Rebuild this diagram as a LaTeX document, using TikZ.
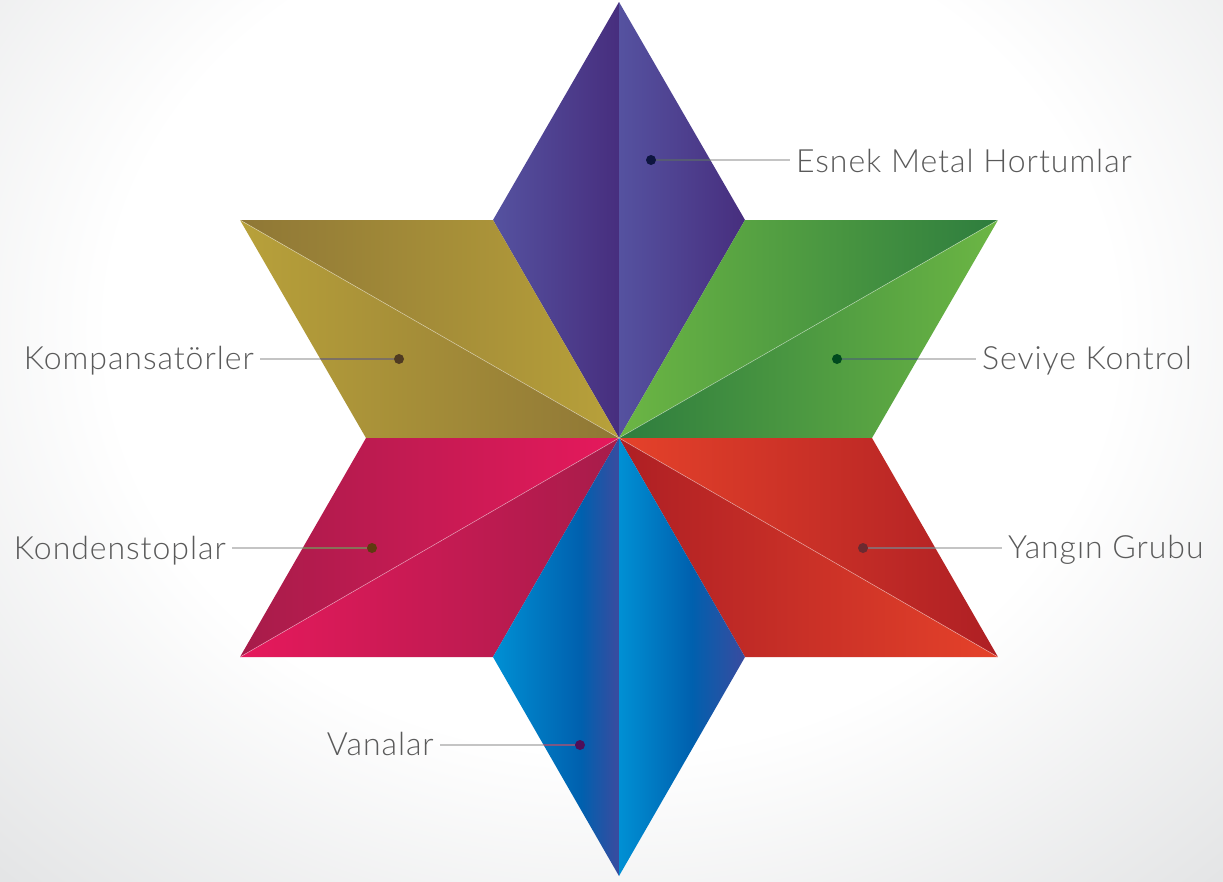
\documentclass[tikz,border=0pt]{standalone}
\usepackage{fontspec}
\newfontfamily\labelfont{Lato Light}[LetterSpace=3]

\definecolor{paperGrey}{HTML}{E4E5E6}
\definecolor{txtGrey}{HTML}{5A5A5A}
\definecolor{leadGrey}{HTML}{C4C4C4}
\definecolor{purA}{HTML}{5552A0}
\definecolor{purB}{HTML}{472E7E}
\definecolor{goldDark}{HTML}{8F7736}
\definecolor{goldLight}{HTML}{B8A13A}
\definecolor{grnLight}{HTML}{6CB644}
\definecolor{grnDark}{HTML}{2E7D3E}
\definecolor{pnkDark}{HTML}{A71C4A}
\definecolor{pnkBright}{HTML}{E6195C}
\definecolor{redBright}{HTML}{E5422A}
\definecolor{redDark}{HTML}{AE1F24}
\definecolor{bluA}{HTML}{0090D4}
\definecolor{bluB}{HTML}{0060AE}
\definecolor{bluC}{HTML}{3A4B9F}
\definecolor{dotNavy}{HTML}{0E1540}
\definecolor{dotBrown}{HTML}{4F3A22}
\definecolor{dotGreen}{HTML}{004A1E}
\definecolor{dotOchre}{HTML}{5F3A10}
\definecolor{dotMaroon}{HTML}{6B2A30}
\definecolor{dotPlum}{HTML}{4E0F5A}

\pgfdeclarehorizontalshading{blueleft}{100bp}{color(0bp)=(bluA); color(25bp)=(bluA); color(60bp)=(bluB); color(75bp)=(bluC); color(100bp)=(bluC)}
\pgfdeclarehorizontalshading{blueright}{100bp}{color(0bp)=(bluA); color(25bp)=(bluA); color(54bp)=(bluB); color(75bp)=(bluC); color(100bp)=(bluC)}
\pgfdeclareradialshading{paper}{\pgfpoint{0bp}{0bp}}{color(0bp)=(white); color(15.5bp)=(white); color(27.5bp)=(paperGrey); color(50bp)=(paperGrey)}

\begin{document}
\begin{tikzpicture}[
x=1pt, y=-1pt,
lbl/.style={font=\labelfont\fontsize{32}{37}\selectfont, text=txtGrey, inner sep=0pt, inner xsep=6pt},
dot/.style={circle, minimum size=10pt, inner sep=0pt},
lead/.style={draw=leadGrey, line width=1.6pt},
split/.style={draw=white, opacity=.45, line width=.6pt}
]
\useasboundingbox (0,0) rectangle (1223,881);

% paper
\begin{scope}
\clip (0,0) rectangle (1223,881);
\shade[shading=paper] (-200,-350) rectangle (1423,1010);
\end{scope}

% star corners
\coordinate (C) at (619,438);
\coordinate (T) at (619,2);
\coordinate (B) at (619,876);
\coordinate (UL) at (240,220);
\coordinate (UR) at (998,220);
\coordinate (LL) at (240,657);
\coordinate (LR) at (998,657);
\coordinate (H1) at (493,220);
\coordinate (H2) at (745,220);
\coordinate (H3) at (872,438);
\coordinate (H4) at (745,657);
\coordinate (H5) at (493,657);
\coordinate (H6) at (366,438);

% top
\shade[left color=purA, right color=purB] (T) -- (H1) -- (C) -- cycle;
\shade[left color=purA, right color=purB] (T) -- (C) -- (H2) -- cycle;
% upper left
\shade[left color=goldDark, right color=goldLight] (UL) -- (H1) -- (C) -- cycle;
\shade[left color=goldLight, right color=goldDark] (UL) -- (C) -- (H6) -- cycle;
% upper right
\shade[left color=grnLight, right color=grnDark] (H2) -- (UR) -- (C) -- cycle;
\shade[left color=grnDark, right color=grnLight] (C) -- (UR) -- (H3) -- cycle;
% lower left
\shade[left color=pnkDark, right color=pnkBright] (H6) -- (C) -- (LL) -- cycle;
\shade[left color=pnkBright, right color=pnkDark] (LL) -- (C) -- (H5) -- cycle;
% lower right
\shade[left color=redBright, right color=redDark] (C) -- (H3) -- (LR) -- cycle;
\shade[left color=redDark, right color=redBright] (C) -- (LR) -- (H4) -- cycle;
% bottom
\shade[shading=blueleft] (H5) -- (C) -- (B) -- cycle;
\shade[shading=blueright] (C) -- (H4) -- (B) -- cycle;

\draw[split] (UL) -- (C) -- (UR);
\draw[split] (LL) -- (C) -- (LR);

% labels
\node[lbl, anchor=base west] (esnek) at (790,172) {Esnek Metal Hortumlar};
\node[lbl, anchor=base west] (seviye) at (976,369.5) {Seviye Kontrol};
\node[lbl, anchor=base west] (yangin) at (1002,558) {Yangın Grubu};
\node[lbl, anchor=base east] (komp) at (260,369.5) {Kompansatörler};
\node[lbl, anchor=base east] (konden) at (232,559) {Kondenstoplar};
\node[lbl, anchor=base east] (vana) at (440,755) {Vanalar};

\node[dot] (dEsnek) at (651,160) {};
\node[dot] (dSeviye) at (837,359) {};
\node[dot] (dYangin) at (863,548) {};
\node[dot] (dKomp) at (399,359) {};
\node[dot] (dKonden) at (372,548) {};
\node[dot] (dVana) at (580,745) {};

% leaders
\draw[lead] (dEsnek) -- (dEsnek -| esnek.west);
\draw[lead] (dSeviye) -- (dSeviye -| seviye.west);
\draw[lead] (dYangin) -- (dYangin -| yangin.west);
\draw[lead] (dKomp) -- (dKomp -| komp.east);
\draw[lead] (dKonden) -- (dKonden -| konden.east);
\draw[lead] (dVana) -- (dVana -| vana.east);

% darker where the leader runs over the star
\begin{scope}
\clip (C) -- (H1) -- (T) -- (H2) -- (UR) -- (H3) -- (LR) -- (H4) -- (B) -- (H5) -- (LL) -- (H6) -- (UL) -- (H1) -- cycle;
\draw[lead, draw=dotNavy, opacity=.6] (dEsnek) -- (dEsnek -| esnek.west);
\draw[lead, draw=dotGreen, opacity=.6] (dSeviye) -- (dSeviye -| seviye.west);
\draw[lead, draw=dotMaroon, opacity=.6] (dYangin) -- (dYangin -| yangin.west);
\draw[lead, draw=dotBrown, opacity=.6] (dKomp) -- (dKomp -| komp.east);
\draw[lead, draw=dotOchre, opacity=.6] (dKonden) -- (dKonden -| konden.east);
\draw[lead, draw=dotPlum, opacity=.6] (dVana) -- (dVana -| vana.east);
\end{scope}

\fill[dotNavy] (dEsnek) circle (5);
\fill[dotGreen] (dSeviye) circle (5);
\fill[dotMaroon] (dYangin) circle (5);
\fill[dotBrown] (dKomp) circle (5);
\fill[dotOchre] (dKonden) circle (5);
\fill[dotPlum] (dVana) circle (5);
\end{tikzpicture}
\end{document}
